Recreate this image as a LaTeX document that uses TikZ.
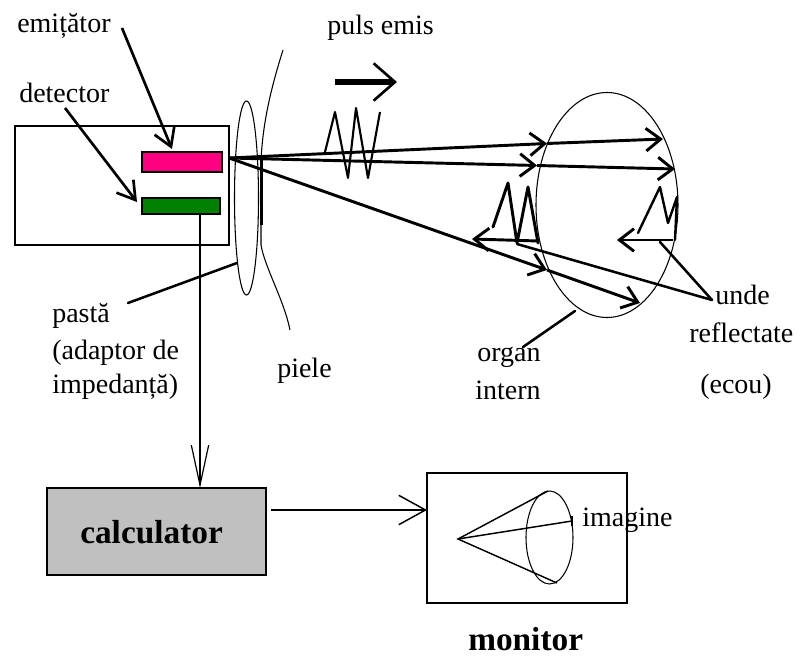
\documentclass[tikz,border=0pt]{standalone}
\usepackage{fontspec}
\setmainfont{Liberation Serif}
\usetikzlibrary{arrows.meta}
\definecolor{emitpink}{RGB}{255,0,128}
\definecolor{detgreen}{RGB}{0,128,0}
\definecolor{boxgray}{RGB}{192,192,192}

\begin{document}
\begin{tikzpicture}[x=0.75pt,y=-0.75pt,
  lbl/.style={anchor=base west, inner sep=0pt, font=\fontsize{21}{25}\selectfont},
  bigl/.style={anchor=base west, inner sep=0pt, font=\fontsize{25}{30}\selectfont\bfseries},
  box/.style={draw, line width=1.1pt, inner sep=0pt, outer sep=0pt},
  chip/.style={draw, line width=0.8pt, inner sep=0pt, outer sep=0pt},
  thinline/.style={line width=0.8pt},
  ray/.style={line width=2.2pt, line join=round, -{Straight Barb[length=11pt,width=17pt]}},
  leader/.style={line width=1.9pt, line cap=round},
  pointer/.style={line width=2pt, -{Straight Barb[length=13pt,width=16pt]}},
  echo/.style={line width=2.2pt, line join=round, line cap=round},
]
\useasboundingbox (0,0) rectangle (801,656);

% --- transducer housing, emitter and detector
\node[box, minimum width=160.5pt, minimum height=89.25pt] (probe) at (122,185.5) {};
\node[chip, fill=emitpink, minimum width=60pt, minimum height=15pt] (emit) at (182,162) {};
\node[chip, fill=detgreen, minimum width=58.5pt, minimum height=12pt] (det) at (181,206) {};

% --- processing unit and display
\node[box, fill=boxgray, minimum width=164.25pt, minimum height=65.25pt] (calc) at (156.5,531.5) {};
\node[box, minimum width=150pt, minimum height=97.5pt] (mon) at (527,538) {};

% --- labels
\node[lbl] (lemit) at (17,33) {emițător};
\node[lbl] (ldet) at (19,103) {detector};
\node[lbl] (lpuls) at (327,35) {puls emis};
\node[lbl] (lpasta) at (52,323) {pastă};
\node[lbl] (ladapt) at (52,360) {(adaptor de};
\node[lbl] (limped) at (52,394) {impedanță)};
\node[lbl] (lpiele) at (277,378) {piele};
\node[lbl] (lorgan) at (477,362) {organ};
\node[lbl] (lintern) at (475,400) {intern};
\node[lbl] (lunde) at (715,305) {unde};
\node[lbl] (lrefl) at (689,343) {reflectate};
\node[lbl] (lecou) at (700,393) {(ecou)};
\node[lbl] (limg) at (582,527) {imagine};
\node[bigl] (lcalc) at (80,543) {calculator};
\node[bigl] (lmon) at (468,650) {monitor};

% --- pointers from labels to emitter and detector
\coordinate (pe0) at (122,28);
\coordinate (pe1) at (172,149);
\coordinate (pd0) at (65,108);
\coordinate (pd1) at (137,202);
\draw[pointer] (pe0) -- (pe1);
\draw[pointer] (pd0) -- (pd1);

% --- coupling gel layer and skin
\draw[thinline] (246.5,198) ellipse [x radius=12, y radius=97];
\draw[thinline] (283,50) .. controls (272,85) and (263,120) .. (261,160)
  -- (261,245) .. controls (265,268) and (284,300) .. (290,330);
\draw[line width=2.2pt] (261.5,158) -- (261.5,225);
\coordinate (gel) at (237,263);
\coordinate (pl0) at (128,303);
\draw[leader] (pl0) -- (gel);

% --- internal organ
\draw[thinline] (607,205) ellipse [x radius=71, y radius=112.5];
\coordinate (org) at (575,311);
\coordinate (ol0) at (523,347);
\draw[leader] (ol0) -- (org);

% --- emitted pulse
\coordinate (pa) at (335,82);
\coordinate (pb) at (397,82);
\draw[line width=4.5pt, -{Straight Barb[length=16pt,width=28pt,line width=2pt]}] (pa) -- (pb);
\draw[line width=1.6pt, line join=round]
  (325,152) -- (335,112) -- (348,178) -- (356,108) -- (368,178) -- (380,112);

% --- beams through the body
\coordinate (src) at (229,158);
\coordinate (r1m) at (547,143.5);
\coordinate (r1e) at (663,139);
\coordinate (r2m) at (537,165.5);
\coordinate (r2e) at (675,169);
\coordinate (r3m) at (547,270);
\coordinate (r3e) at (640,303);
\draw[ray] (src) -- (r1m);
\draw[ray] (r1m) -- (r1e);
\draw[ray] (src) -- (r2m);
\draw[ray] (r2m) -- (r2e);
\draw[ray] (src) -- (r3m);
\draw[ray] (r3m) -- (r3e);

% --- echoes
\draw[echo] (493,227) -- (508,183) -- (517,243) -- (528,187) -- (538,243);
\coordinate (eL0) at (538,241);
\coordinate (eL1) at (472,239);
\draw[ray] (eL0) -- (eL1);
\draw[echo, line width=1.8pt] (638,233) -- (660,187) -- (668,223) -- (677,197) -- (675,240);
\coordinate (eR0) at (673,240);
\coordinate (eR1) at (617,240);
\draw[ray] (eR0) -- (eR1);
\coordinate (ul) at (712,300);
\coordinate (ua) at (517,244);
\coordinate (ub) at (660,242);
\draw[leader] (ul) -- (ua);
\draw[leader] (ul) -- (ub);

% --- signal path
\coordinate (cin) at (200,488);
\draw[line width=0.9pt, -{Straight Barb[length=30pt,width=13pt]}] (det.south -| cin) -- (cin);
\coordinate (cout) at (271,510);
\draw[line width=1.1pt, -{Straight Barb[length=20pt,width=22pt]}] (cout) -- (mon.west |- cout);

% --- image on the monitor
\coordinate (apex) at (458,539);
\coordinate (ctop) at (548,491);
\coordinate (cbot) at (557,583);
\coordinate (cmid) at (572,521);
\draw[thinline] (549.5,537.5) ellipse [x radius=23.5, y radius=46.5];
\draw[line width=1.1pt] (ctop) -- (apex) -- (cbot);
\draw[line width=1.1pt] (apex) -- (cmid);
\draw[line width=1.1pt] (572,516) -- (572,526);
\end{tikzpicture}
\end{document}
